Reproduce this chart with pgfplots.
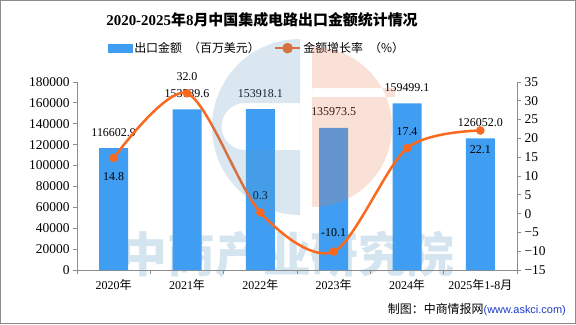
\documentclass[border=0pt]{standalone}
\usepackage{pgfplots}
\pgfplotsset{compat=1.18}
\usepackage{fontspec}
\setmainfont{Liberation Serif}
\newfontfamily\cjk{Noto Sans CJK SC}
\definecolor{barblue}{RGB}{64,158,242}
\definecolor{lineorange}{RGB}{250,105,30}
\definecolor{axisgray}{RGB}{140,140,140}
\definecolor{wmblue}{RGB}{90,150,195}
\definecolor{wmpeach}{RGB}{235,120,80}
\definecolor{wmtext}{RGB}{212,229,239}
\definecolor{urlblue}{RGB}{30,60,200}

\begin{document}
\begin{tikzpicture}
\begin{scope}[x=1bp,y=1bp]
\path[use as bounding box] (0,0) rectangle (576,324);
\fill[white] (0,0) rectangle (576,324);
% watermark text (behind)
\node[text=wmtext, font=\cjk\bfseries\fontsize{48}{48}\selectfont, inner sep=0pt] at (287,70) {中商产业研究院};
% title
\node[font=\bfseries\fontsize{15}{15}\selectfont, inner sep=0pt] at (262,304) {2020-2025{\cjk\bfseries 年}8{\cjk\bfseries 月中国集成电路出口金额统计情况}};
\end{scope}

\begin{axis}[at={(77bp,54bp)}, anchor=south west, scale only axis,
  width=440bp, height=188bp,
  xmin=-0.5, xmax=5.5, ymin=0, ymax=180000,
  axis y line*=left, axis x line*=bottom,
  axis line style={axisgray, line width=1bp},
  ytick={0,20000,...,180000},
  scaled y ticks=false,
  yticklabel style={/pgf/number format/fixed, /pgf/number format/1000 sep={}, /pgf/number format/assume math mode=true, font=\fontsize{13.5}{13.5}\selectfont},
  xtick={0,...,5},
  xticklabels={2020{\cjk 年},2021{\cjk 年},2022{\cjk 年},2023{\cjk 年},2024{\cjk 年},2025{\cjk 年}1-8{\cjk 月}},
  xticklabel style={font=\fontsize{12}{12}\selectfont, yshift=-2bp},
  major x tick style={draw=none},
  minor xtick={-0.5,0.5,...,5.5},
  minor x tick style={axisgray, line width=1bp},
  tick align=outside,
  major tick length=4bp, minor tick length=4bp,
  y tick style={axisgray, line width=1bp},
  clip=false,
]
\addplot[ybar, bar width=29bp, fill=barblue, draw=none] coordinates {(0,116602.9) (1,153789.6) (2,153918.1) (3,135973.5) (4,159499.1) (5,126052.0)};
\node[font=\fontsize{12}{12}\selectfont, yshift=16bp] at (axis cs:0,116602.9) {116602.9};
\node[font=\fontsize{12}{12}\selectfont, yshift=16bp] at (axis cs:1,153789.6) {153789.6};
\node[font=\fontsize{12}{12}\selectfont, yshift=16bp] at (axis cs:2,153918.1) {153918.1};
\node[font=\fontsize{12}{12}\selectfont, yshift=16bp] at (axis cs:3,135973.5) {135973.5};
\node[font=\fontsize{12}{12}\selectfont, yshift=16bp] at (axis cs:4,159499.1) {159499.1};
\node[font=\fontsize{12}{12}\selectfont, yshift=16bp] at (axis cs:5,126052.0) {126052.0};
\end{axis}

\begin{axis}[at={(77bp,54bp)}, anchor=south west, scale only axis,
  width=440bp, height=188bp,
  xmin=-0.5, xmax=5.5, ymin=-15, ymax=35,
  axis y line*=right, axis x line=none,
  axis line style={axisgray, line width=1bp},
  ytick={-15,-10,...,35},
  yticklabels={−15,−10,−5,0,5,10,15,20,25,30,35},
  yticklabel style={font=\fontsize{13.5}{13.5}\selectfont},
  tick align=outside, major tick length=4bp,
  y tick style={axisgray, line width=1bp},
  clip=false,
  legend columns=2,
  legend style={draw=none, fill=none, at={(axis description cs:0.409,1.18)}, anchor=center,
    inner sep=0pt, nodes={inner sep=2bp},
    /tikz/every even column/.append style={column sep=12bp}},
  legend cell align=left,
]
\addlegendimage{legend image code/.code={\fill[barblue] (0bp,-4bp) rectangle (24bp,4bp);}}
\addlegendentry{\fontsize{12}{12}\selectfont\cjk 出口金额\hspace{6bp}（百万美元）\hspace{6bp}}
\addplot[lineorange, line width=2.5bp, smooth, mark=*, mark size=4bp,
  mark options={fill=lineorange, draw=lineorange, line width=0.5bp},
  legend image code/.code={\draw[lineorange, line width=2.5bp] (0bp,0bp) -- (25bp,0bp); \fill[lineorange] (12.5bp,0bp) circle (4bp);}]
  coordinates {(0,14.8) (1,32.0) (2,0.3) (3,-10.1) (4,17.4) (5,22.1)};
\addlegendentry{\fontsize{12}{12}\selectfont\cjk 金额增长率\hspace{6bp}（\%）\hspace{6bp}}
\node[font=\fontsize{12}{12}\selectfont, yshift=-19bp] at (axis cs:0,14.8) {14.8};
\node[font=\fontsize{12}{12}\selectfont, yshift=17bp] at (axis cs:1,32.0) {32.0};
\node[font=\fontsize{12}{12}\selectfont, yshift=17bp] at (axis cs:2,0.3) {0.3};
\node[font=\fontsize{12}{12}\selectfont, yshift=19bp] at (axis cs:3,-10.1) {-10.1};
\node[font=\fontsize{12}{12}\selectfont, yshift=17bp] at (axis cs:4,17.4) {17.4};
\node[font=\fontsize{12}{12}\selectfont, yshift=-19bp] at (axis cs:5,22.1) {22.1};
\end{axis}

\begin{scope}[x=1bp,y=1bp]
% logo watermark (on top, translucent)
\fill[wmblue, opacity=0.22, even odd rule]
  (300,285) arc (90:270:88) -- cycle
  (300,221) -- (245,221) arc (90:270:23.5) -- (300,174) -- cycle;
\fill[wmpeach, opacity=0.22, even odd rule]
  (312,277) arc (90:-90:80) -- cycle
  (312,236) rectangle (395,227);
% footer
\node[anchor=east, inner sep=0pt, font=\fontsize{12}{12}\selectfont] at (566,14) {{\cjk 制图：中商情报网}\textcolor{urlblue}{\fontspec{Liberation Sans}\fontsize{11}{11}\selectfont(www.askci.com)}};
% frame
\draw[axisgray, line width=1bp] (0.5,0.5) rectangle (575.5,323.5);
\end{scope}
\end{tikzpicture}
\end{document}
